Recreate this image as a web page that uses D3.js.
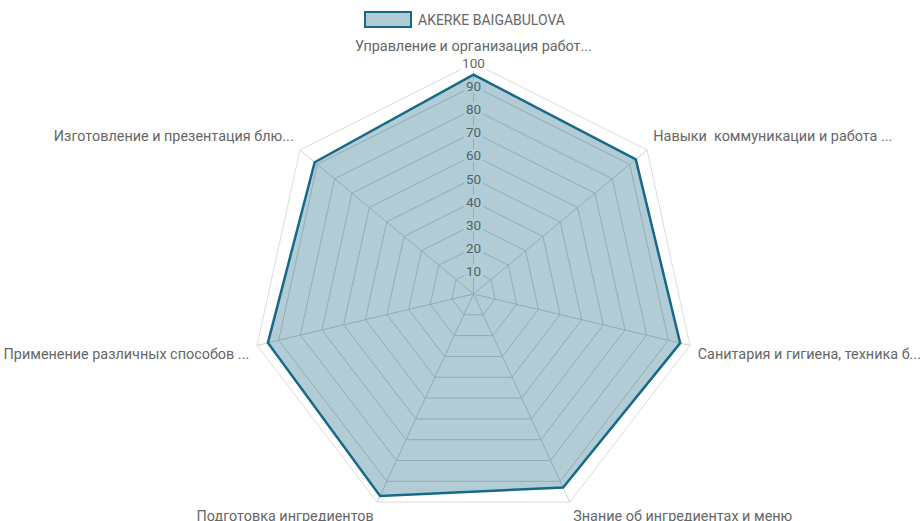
<!DOCTYPE html>
<html>
<head>
<meta charset="utf-8">
<script src="https://cdn.jsdelivr.net/npm/d3@7"></script>
<style>
  body { margin: 0; background: #fff; }
  svg { display: block; }
  text { font-family: Roboto, "Liberation Sans", Arial, sans-serif; fill: #666; white-space: pre; }
</style>
</head>
<body>
<svg id="chart" width="924" height="521"></svg>
<script>
const seriesName = 'AKERKE BAIGABULOVA';
const axisLabels = [
  'Управление и организация работ...',
  'Навыки  коммуникации и работа ...',
  'Санитария и гигиена, техника б...',
  'Знание об ингредиентах и меню',
  'Подготовка ингредиентов',
  'Применение различных способов ...',
  'Изготовление и презентация блю...'
];
const scores = [95, 93.5, 95.5, 93, 97, 95, 91.5];
const tickValues = [10, 20, 30, 40, 50, 60, 70, 80, 90, 100];

const svg = d3.select('#chart');
const cx = 473.5, cy = 294;
const stretch = 231 / 222; // picture is a bit taller than wide
const r = d3.scaleLinear().domain([0, 100]).range([0, 222]);
const angle = d3.scaleLinear().domain([0, axisLabels.length]).range([-Math.PI / 2, Math.PI * 1.5]);

function pt (i, v) {
  const a = angle(i);
  return [cx + r(v) * Math.cos(a), cy + r(v) * Math.sin(a) * stretch];
}

const line = d3.line().curve(d3.curveLinearClosed);

// grid rings
const grid = svg.append('g');
tickValues.forEach(t => {
  grid.append('path')
    .attr('d', line(axisLabels.map((d, i) => pt(i, t))))
    .attr('fill', 'none')
    .attr('stroke', t === 100 ? '#dcdcdc' : '#d0d0d0')
    .attr('stroke-width', 1);
});
// spokes
axisLabels.forEach((d, i) => {
  const p = pt(i, 100);
  grid.append('line')
    .attr('x1', cx).attr('y1', cy)
    .attr('x2', p[0]).attr('y2', p[1])
    .attr('stroke', '#d0d0d0');
});

// tick labels with white backdrop
const ticks = svg.append('g');
tickValues.forEach(t => {
  const y = cy - r(t) * stretch;
  const txt = ticks.append('text')
    .attr('x', cx).attr('y', y + 5)
    .attr('text-anchor', 'middle')
    .style('font-size', '13.5px')
    .text(t);
  const bb = txt.node().getBBox();
  ticks.insert('rect', 'text')
    .attr('x', bb.x - 2).attr('y', bb.y + 1)
    .attr('width', bb.width + 4).attr('height', bb.height - 2)
    .attr('fill', '#fff');
});

// data area
svg.append('path')
  .attr('d', line(scores.map((v, i) => pt(i, v))))
  .attr('fill', 'rgba(22, 100, 130, 0.33)')
  .attr('stroke', '#17698a')
  .attr('stroke-width', 2.5)
  .attr('stroke-linejoin', 'miter');

// point labels
axisLabels.forEach((d, i) => {
  const a = angle(i);
  const p = pt(i, 100);
  const c = Math.cos(a), s = Math.sin(a);
  const x = p[0] + 8 * c;
  const y = p[1] + 8 * s;
  let anchor = 'middle';
  if (c > 0.1) anchor = 'start';
  if (c < -0.1) anchor = 'end';
  svg.append('text')
    .attr('x', x)
    .attr('y', s < 0 ? y - 4 : y + 11.5)
    .attr('text-anchor', anchor)
    .style('font-size', '14.4px')
    .text(d);
});

// legend
const legend = svg.append('g');
legend.append('rect')
  .attr('x', 365).attr('y', 12)
  .attr('width', 46).attr('height', 15)
  .attr('fill', 'rgba(22, 100, 130, 0.33)')
  .attr('stroke', '#17698a')
  .attr('stroke-width', 2);
legend.append('text')
  .attr('x', 418).attr('y', 24.5)
  .style('font-size', '14px')
  .text(seriesName);
</script>
</body>
</html>
